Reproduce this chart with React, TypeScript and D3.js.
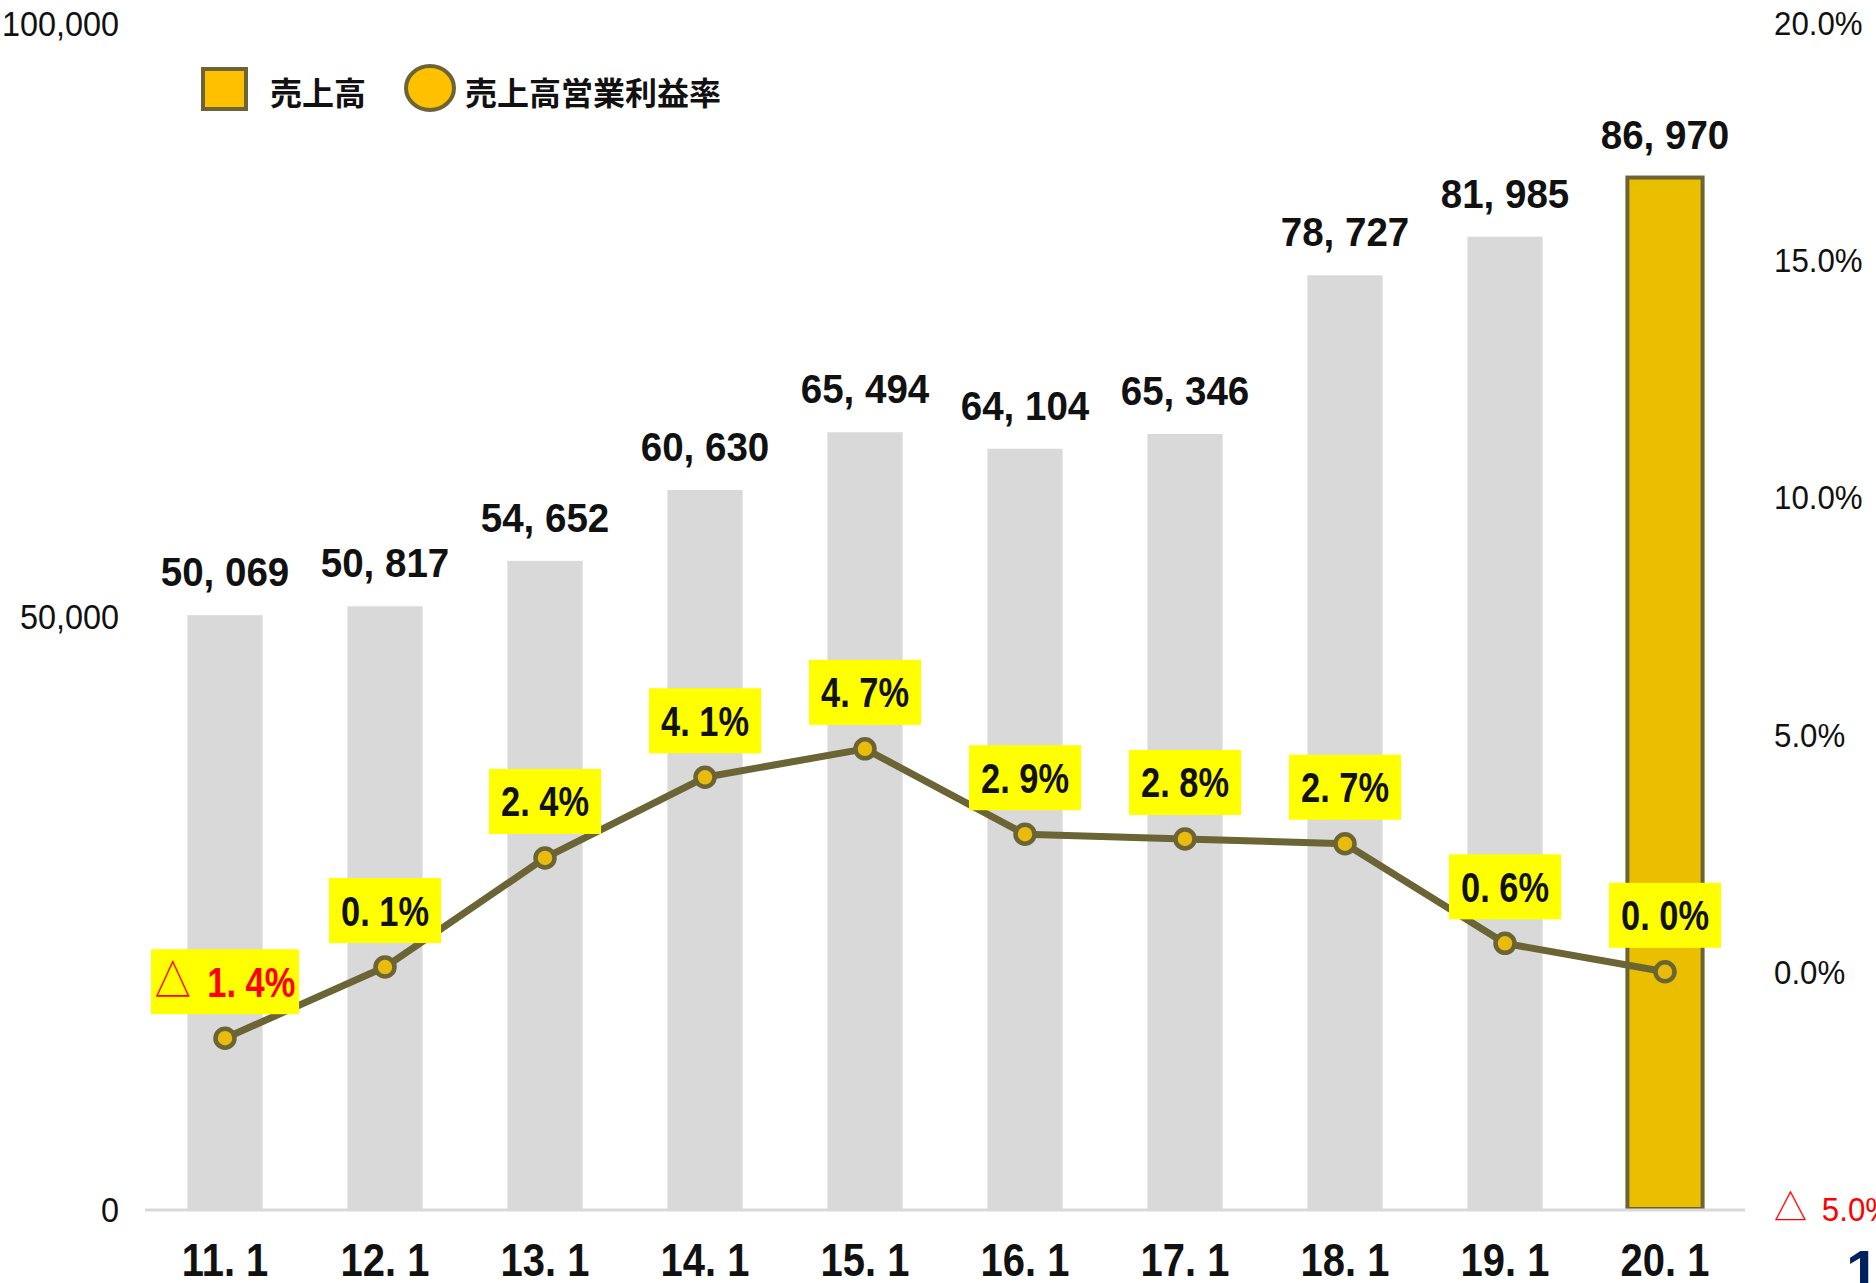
import React, { useRef, useEffect } from 'react';
import * as d3 from 'd3';

const categories = ['11. 1', '12. 1', '13. 1', '14. 1', '15. 1', '16. 1', '17. 1', '18. 1', '19. 1', '20. 1'];
const sales = [50069, 50817, 54652, 60630, 65494, 64104, 65346, 78727, 81985, 86970];
const margins = [-1.4, 0.1, 2.4, 4.1, 4.7, 2.9, 2.8, 2.7, 0.6, 0.0];
const leftTicks = [0, 50000, 100000];
const rightTicks = [-5, 0, 5, 10, 15, 20];
const legendLabels = ['売上高', '売上高営業利益率'];

const W = 1876;
const H = 1283;
const SANS = '"Liberation Sans", Arimo, Arial, sans-serif';
const CJK = '"Noto Sans CJK JP", "Noto Sans", sans-serif';
const OLIVE = '#6b6435';

const fmtSales = (v: number) => d3.format(',')(v).replace(',', ', ');
const fmtPctNum = (v: number) => Math.abs(v).toFixed(1).replace('.', '. ') + '%';
const fmtAxisPct = (v: number) => Math.abs(v).toFixed(1) + '%';

export default function App() {
  const ref = useRef<SVGSVGElement | null>(null);

  useEffect(() => {
    const svg = d3.select(ref.current);
    svg.selectAll('*').remove();

    const x = d3.scaleBand<string>().domain(categories).range([145, 1745]).paddingInner(0.53).paddingOuter(0.265);
    const yL = d3.scaleLinear().domain([0, 100000]).range([1209, 23]);
    const yR = d3.scaleLinear().domain([-5, 20]).range([1209, 23]);
    const cx = (c: string) => (x(c) as number) + x.bandwidth() / 2;

    // left axis labels
    svg.append('g').selectAll('text').data(leftTicks).join('text')
      .attr('transform', d => `translate(119,${yL(d) + 13}) scale(0.9,1)`)
      .attr('text-anchor', 'end')
      .attr('font-family', SANS).attr('font-size', 36).attr('fill', '#111')
      .text(d => d3.format(',')(d));

    // right axis labels
    const rt = svg.append('g').selectAll('text').data(rightTicks).join('text')
      .attr('transform', d => `translate(1774,${yR(d) + 12}) scale(0.92,1)`)
      .attr('font-family', SANS).attr('font-size', 34)
      .attr('fill', d => (d < 0 ? '#ff0000' : '#111'));
    rt.each(function (d) {
      const t = d3.select(this);
      if (d < 0) {
        t.append('tspan').attr('font-family', CJK).attr('font-size', 36).text('△');
        t.append('tspan').attr('dx', 16).text(fmtAxisPct(d));
      } else {
        t.text(fmtAxisPct(d));
      }
    });

    // bars
    svg.append('g').selectAll('rect').data(sales).join('rect')
      .attr('x', (d, i) => x(categories[i]) as number)
      .attr('y', d => yL(d))
      .attr('width', x.bandwidth())
      .attr('height', d => yL(0) - yL(d))
      .attr('fill', (d, i) => (i === sales.length - 1 ? '#e9bf00' : '#d9d9d9'))
      .attr('stroke', (d, i) => (i === sales.length - 1 ? OLIVE : 'none'))
      .attr('stroke-width', 4);

    // baseline
    svg.append('line').attr('x1', 145).attr('x2', 1745).attr('y1', yL(0) + 1).attr('y2', yL(0) + 1)
      .attr('stroke', '#d9d9d9').attr('stroke-width', 3);

    // bar labels
    svg.append('g').selectAll('text').data(sales).join('text')
      .attr('transform', (d, i) => `translate(${cx(categories[i])},${yL(d) - 29}) scale(0.94,1)`)
      .attr('text-anchor', 'middle').attr('font-family', SANS).attr('font-weight', 'bold')
      .attr('font-size', 41).attr('fill', '#111')
      .text(d => fmtSales(d));

    // x labels
    svg.append('g').selectAll('text').data(categories).join('text')
      .attr('transform', d => `translate(${cx(d)},1276) scale(0.85,1)`)
      .attr('text-anchor', 'middle').attr('font-family', SANS).attr('font-weight', 'bold')
      .attr('font-size', 47).attr('fill', '#111')
      .text(d => d);

    // line
    const line = d3.line<number>().x((d, i) => cx(categories[i])).y(d => yR(d));
    svg.append('path').datum(margins).attr('d', line).attr('fill', 'none')
      .attr('stroke', OLIVE).attr('stroke-width', 7).attr('stroke-linejoin', 'round');

    svg.append('g').selectAll('circle').data(margins).join('circle')
      .attr('cx', (d, i) => cx(categories[i])).attr('cy', d => yR(d)).attr('r', 9.5)
      .attr('fill', '#e8bb0c').attr('stroke', OLIVE).attr('stroke-width', 4.5);

    // pct labels with yellow boxes
    const lg = svg.append('g');
    margins.forEach((v, i) => {
      const g = lg.append('g');
      const rect = g.append('rect');
      const boxBottom = yR(v) - 24;
      const boxH = 65;
      const sx = 0.82;
      const t = g.append('text')
        .attr('transform', `translate(${cx(categories[i])},${boxBottom - boxH / 2 + 15}) scale(${sx},1)`)
        .attr('text-anchor', 'middle').attr('font-family', SANS).attr('font-weight', 'bold')
        .attr('font-size', 42).attr('fill', v < 0 ? '#ff0000' : '#111');
      if (v < 0) {
        t.append('tspan').attr('font-family', CJK).attr('font-weight', 'normal').attr('font-size', 44).text('△');
        t.append('tspan').attr('dx', 20).text(fmtPctNum(v));
      } else {
        t.text(fmtPctNum(v));
      }
      const w = (t.node() as SVGTextElement).getComputedTextLength() * sx + 24;
      rect.attr('x', cx(categories[i]) - w / 2).attr('y', boxBottom - boxH).attr('width', w).attr('height', boxH)
        .attr('fill', '#ffff00');
    });

    // legend
    const leg = svg.append('g');
    leg.append('rect').attr('x', 203).attr('y', 69).attr('width', 43).attr('height', 40)
      .attr('fill', '#ffc000').attr('stroke', OLIVE).attr('stroke-width', 4);
    leg.append('text').attr('x', 270).attr('y', 91).attr('dominant-baseline', 'central')
      .attr('font-family', CJK).attr('font-weight', 'bold').attr('font-size', 32).attr('fill', '#111')
      .text(legendLabels[0]);
    leg.append('ellipse').attr('cx', 430).attr('cy', 88).attr('rx', 24).attr('ry', 22)
      .attr('fill', '#ffc000').attr('stroke', OLIVE).attr('stroke-width', 4);
    leg.append('text').attr('x', 465).attr('y', 91).attr('dominant-baseline', 'central')
      .attr('font-family', CJK).attr('font-weight', 'bold').attr('font-size', 32).attr('fill', '#111')
      .text(legendLabels[1]);

    // page number (cut off)
    svg.append('text').attr('x', 1846).attr('y', 1292).attr('font-family', SANS)
      .attr('font-weight', 'bold').attr('font-size', 60).attr('fill', '#002060').text('19');
  }, []);

  return (
    <svg
      ref={ref}
      width={W}
      height={H}
      style={{ position: 'absolute', left: 0, top: 0, display: 'block', background: '#fff' }}
    />
  );
}
